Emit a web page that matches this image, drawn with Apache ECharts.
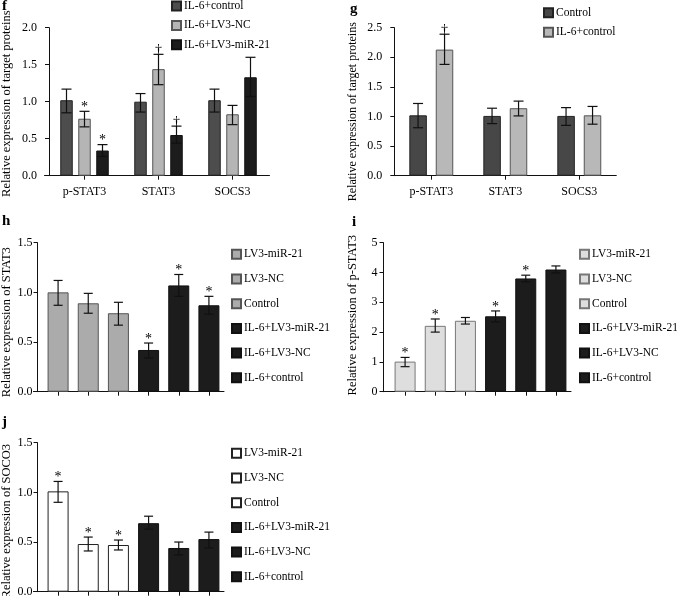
<!DOCTYPE html>
<html>
<head>
<meta charset="utf-8">
<script src="https://cdn.jsdelivr.net/npm/echarts@6/dist/echarts.min.js"></script>
<style>
html,body{margin:0;padding:0;background:#fff;}
#chart{width:677px;height:596px;}
</style>
</head>
<body>
<div id="chart"></div>
<script>
// ---------- DATA ----------
const proteinCategories = ['p-STAT3', 'STAT3', 'SOCS3'];

// panel f
const fSeriesNames = ['IL-6+control', 'IL-6+LV3-NC', 'IL-6+LV3-miR-21'];
const fValues   = [[1.02, 1.00, 1.02], [0.77, 1.44, 0.83], [0.34, 0.55, 1.33]];
const fErrLow   = [[0.85, 0.86, 0.86], [0.66, 1.23, 0.69], [0.26, 0.44, 1.07]];
const fErrHigh  = [[1.17, 1.11, 1.17], [0.87, 1.64, 0.95], [0.42, 0.67, 1.60]];
const fMarks    = [['', '', ''], ['*', '\u2020', ''], ['*', '\u2020', '']];
const fTicks    = [0, 0.5, 1.0, 1.5, 2.0];

// panel g
const gSeriesNames = ['Control', 'IL-6+control'];
const gValues   = [[1.02, 1.01, 1.01], [2.13, 1.14, 1.02]];
const gErrLow   = [[0.81, 0.88, 0.85], [1.88, 1.01, 0.87]];
const gErrHigh  = [[1.22, 1.14, 1.15], [2.39, 1.26, 1.17]];
const gMarks    = [['', '', ''], ['\u2020', '', '']];
const gTicks    = [0, 0.5, 1.0, 1.5, 2.0, 2.5];

// panels h, i, j (six groups each)
const groupNames = ['LV3-miR-21', 'LV3-NC', 'Control', 'IL-6+LV3-miR-21', 'IL-6+LV3-NC', 'IL-6+control'];

const hValues  = [1.00, 0.89, 0.79, 0.42, 1.07, 0.87];
const hErrLow  = [0.87, 0.79, 0.67, 0.34, 0.96, 0.78];
const hErrHigh = [1.12, 0.99, 0.90, 0.49, 1.18, 0.96];
const hMarks   = ['', '', '', '*', '*', '*'];
const hTicks   = [0, 0.5, 1.0, 1.5];

const iValues  = [1.01, 2.21, 2.38, 2.53, 3.80, 4.10];
const iErrLow  = [0.84, 2.00, 2.27, 2.34, 3.69, 3.99];
const iErrHigh = [1.15, 2.44, 2.49, 2.71, 3.91, 4.22];
const iMarks   = ['*', '*', '', '*', '*', ''];
const iTicks   = [0, 1, 2, 3, 4, 5];

const jValues  = [1.01, 0.48, 0.47, 0.69, 0.44, 0.53];
const jErrLow  = [0.90, 0.41, 0.42, 0.63, 0.37, 0.44];
const jErrHigh = [1.11, 0.55, 0.52, 0.76, 0.50, 0.60];
const jMarks   = ['*', '*', '*', '', '', ''];
const jTicks   = [0, 0.5, 1.0, 1.5];

// ---------- STYLE / BUILD ----------
const FONT = '"Liberation Serif", "Times New Roman", serif';
const INK = '#000';

function errSeries(axisIdx, points, marks, step, nGroup, capW) {
  return {
    type: 'custom', xAxisIndex: axisIdx, yAxisIndex: axisIdx, z: 10,
    encode: {x: 0, y: [1, 2]},
    data: points,
    renderItem: function (params, api) {
      const cat = api.value(0);
      const lo = api.coord([cat, api.value(1)]);
      const hi = api.coord([cat, api.value(2)]);
      const k = api.value(3);
      const x = lo[0] + (k - (nGroup - 1) / 2) * step;
      const st = {stroke: '#111', lineWidth: 1.2};
      const ch = [
        {type: 'line', shape: {x1: x, y1: lo[1], x2: x, y2: hi[1]}, style: st},
        {type: 'line', shape: {x1: x - capW / 2, y1: hi[1], x2: x + capW / 2, y2: hi[1]}, style: st},
        {type: 'line', shape: {x1: x - capW / 2, y1: lo[1], x2: x + capW / 2, y2: lo[1]}, style: st}
      ];
      const m = marks[params.dataIndex];
      if (m) {
        ch.push({type: 'text', x: x, y: hi[1] + 3,
          style: {text: m, font: '14px ' + FONT, fill: INK, align: 'center', verticalAlign: 'bottom'}});
      }
      return {type: 'group', children: ch};
    }
  };
}

function yAxisDef(gridIdx, ticks, name, nameGap, margin, dec, shiftDown, nameSize) {
  return {
    type: 'value', gridIndex: gridIdx, min: ticks[0], max: ticks[ticks.length - 1],
    interval: ticks[1] - ticks[0],
    name: name, nameLocation: 'middle', nameRotate: 90, nameGap: nameGap,
    nameTextStyle: {fontFamily: FONT, fontSize: nameSize, color: INK,
      padding: shiftDown > 0 ? [0, shiftDown * 2, 0, 0] : [0, 0, 0, -shiftDown * 2]},
    axisLine: {show: true, lineStyle: {color: '#111', width: 1}},
    axisTick: {show: true, length: 4, lineStyle: {color: '#111'}},
    axisLabel: {fontFamily: FONT, fontSize: 12, color: INK, margin: margin,
      formatter: v => dec ? v.toFixed(1) : String(v)},
    splitLine: {show: false}
  };
}

function xAxisDef(gridIdx, cats, showLabel) {
  return {
    type: 'category', gridIndex: gridIdx, data: cats,
    axisLine: {show: false},
    axisTick: {show: true, interval: 0, alignWithLabel: true, length: 4, lineStyle: {color: '#111'}},
    axisLabel: {show: showLabel, interval: 0, fontFamily: FONT, fontSize: 12, color: INK, margin: 10}
  };
}

// baseline-only axes (x axis line extends slightly past the y axis, as in the figure)
function baseXAxis(gridIdx) {
  return {type: 'value', gridIndex: gridIdx, min: 0, max: 1,
    axisLine: {show: true, onZero: false, lineStyle: {color: '#111', width: 1}},
    axisTick: {show: false}, axisLabel: {show: false}, splitLine: {show: false}};
}
function baseYAxis(gridIdx) {
  return {type: 'value', gridIndex: gridIdx, min: 0, max: 1, show: false};
}

const series = [];

// f grouped bars
const fColors = ['#4d4d4d', '#b5b5b5', '#1c1c1c'];
const fBorders = ['#222', '#555', '#111'];
const fPts = [], fMk = [];
fSeriesNames.forEach((nm, k) => {
  series.push({type: 'bar', name: 'f|' + nm, xAxisIndex: 0, yAxisIndex: 0, data: fValues[k],
    barWidth: 12.5, barGap: '44%',
    itemStyle: {color: fColors[k], borderColor: fBorders[k], borderWidth: 1}});
  proteinCategories.forEach((c, ci) => { fPts.push([ci, fErrLow[k][ci], fErrHigh[k][ci], k]); fMk.push(fMarks[k][ci]); });
});
series.push(errSeries(0, fPts, fMk, 18, 3, 10));

// g grouped bars
const gColors = ['#474747', '#b8b8b8'];
const gBorders = ['#222', '#555'];
const gPts = [], gMk = [];
gSeriesNames.forEach((nm, k) => {
  series.push({type: 'bar', name: 'g|' + nm, xAxisIndex: 1, yAxisIndex: 1, data: gValues[k],
    barWidth: 17.5, barGap: '51%',
    itemStyle: {color: gColors[k], borderColor: gBorders[k], borderWidth: 1}});
  proteinCategories.forEach((c, ci) => { gPts.push([ci, gErrLow[k][ci], gErrHigh[k][ci], k]); gMk.push(gMarks[k][ci]); });
});
series.push(errSeries(1, gPts, gMk, 26.5, 2, 10));

// h, i, j single-bar-per-group panels
function groupPanel(prefix, axisIdx, values, lo, hi, marks, lightColor, lightBorder) {
  groupNames.forEach((nm, k) => {
    const d = groupNames.map((_, idx) => idx === k ? values[k] : '-');
    const dark = k >= 3;
    series.push({type: 'bar', name: prefix + '|' + nm, xAxisIndex: axisIdx, yAxisIndex: axisIdx,
      stack: prefix, data: d, barWidth: 21,
      itemStyle: {color: dark ? '#1c1c1c' : lightColor, borderColor: dark ? '#111' : lightBorder, borderWidth: 1}});
  });
  const pts = groupNames.map((_, k) => [k, lo[k], hi[k], 0]);
  series.push(errSeries(axisIdx, pts, marks, 0, 1, 9));
}
groupPanel('h', 2, hValues, hErrLow, hErrHigh, hMarks, '#ababab', '#555');
groupPanel('i', 3, iValues, iErrLow, iErrHigh, iMarks, '#dedede', '#777');
groupPanel('j', 4, jValues, jErrLow, jErrHigh, jMarks, '#ffffff', '#222');

function legendDef(prefix, names, left, top, gap) {
  return {
    orient: 'vertical', left: left, top: top, padding: 0, itemGap: gap,
    itemWidth: 9, itemHeight: 9, icon: 'rect', selectedMode: false,
    data: names.map(n => prefix + '|' + n),
    formatter: n => n.split('|')[1],
    textStyle: {fontFamily: FONT, fontSize: 11.5, color: INK, lineHeight: 14, padding: [0, 0, 0, -2]}
  };
}

const letterStyle = {fontFamily: FONT, fontSize: 15, fontWeight: 'bold', color: '#000'};

function gridDef(left, top, width, height) {
  return {left: left, top: top, width: width, height: height, containLabel: false, outerBoundsMode: 'none'};
}

const option = {
  animation: false,
  backgroundColor: '#fff',
  title: [
    {text: 'f', left: 2, top: -1, padding: 0, textStyle: letterStyle},
    {text: 'g', left: 350, top: 2, padding: 0, textStyle: letterStyle},
    {text: 'h', left: 2, top: 214, padding: 0, textStyle: letterStyle},
    {text: 'i', left: 352, top: 215, padding: 0, textStyle: letterStyle},
    {text: 'j', left: 2, top: 415, padding: 0, textStyle: letterStyle}
  ],
  legend: [
    legendDef('f', fSeriesNames, 171, -1, 5.4),
    legendDef('g', gSeriesNames, 543, 5.7, 5.6),
    legendDef('h', groupNames, 231, 247.3, 10.7),
    legendDef('i', groupNames, 579, 247.3, 10.7),
    legendDef('j', groupNames, 231, 446.3, 10.7)
  ],
  grid: [
    gridDef(47.5, 27.7, 222, 148),
    gridDef(394.3, 27.7, 222, 148),
    gridDef(43, 242.7, 181, 149),
    gridDef(390, 242.7, 181, 149),
    gridDef(43, 442.7, 181, 149),
    // baseline grids
    gridDef(44.5, 27.7, 225, 148),
    gridDef(391.5, 27.7, 224.8, 148),
    gridDef(33.5, 242.7, 190.5, 149),
    gridDef(380.5, 242.7, 190.5, 149),
    gridDef(33.5, 442.7, 190.5, 149)
  ],
  xAxis: [
    xAxisDef(0, proteinCategories, true),
    xAxisDef(1, proteinCategories, true),
    xAxisDef(2, groupNames, false),
    xAxisDef(3, groupNames, false),
    xAxisDef(4, groupNames, false),
    baseXAxis(5), baseXAxis(6), baseXAxis(7), baseXAxis(8), baseXAxis(9)
  ],
  yAxis: [
    Object.assign(yAxisDef(0, fTicks, 'Relative expression of target proteins', 36, 12, true, 2, 12.5), {offset: -1.5}),
    yAxisDef(1, gTicks, 'Relative expression of target proteins', 35, 12, true, 10, 12),
    Object.assign(yAxisDef(2, hTicks, 'Relative expression of STAT3', 24, 5, true, 5, 12.5), {offset: 5.5}),
    Object.assign(yAxisDef(3, iTicks, 'Relative expression of p-STAT3', 24, 6, false, -2, 12.5), {offset: 6.5}),
    Object.assign(yAxisDef(4, jTicks, 'Relative expression of SOCO3', 24, 5, true, 4, 12.5), {offset: 5.5}),
    baseYAxis(5), baseYAxis(6), baseYAxis(7), baseYAxis(8), baseYAxis(9)
  ],
  series: series
};

const chart = echarts.init(document.getElementById('chart'), null, {renderer: 'canvas'});
chart.setOption(option);
</script>
</body>
</html>
